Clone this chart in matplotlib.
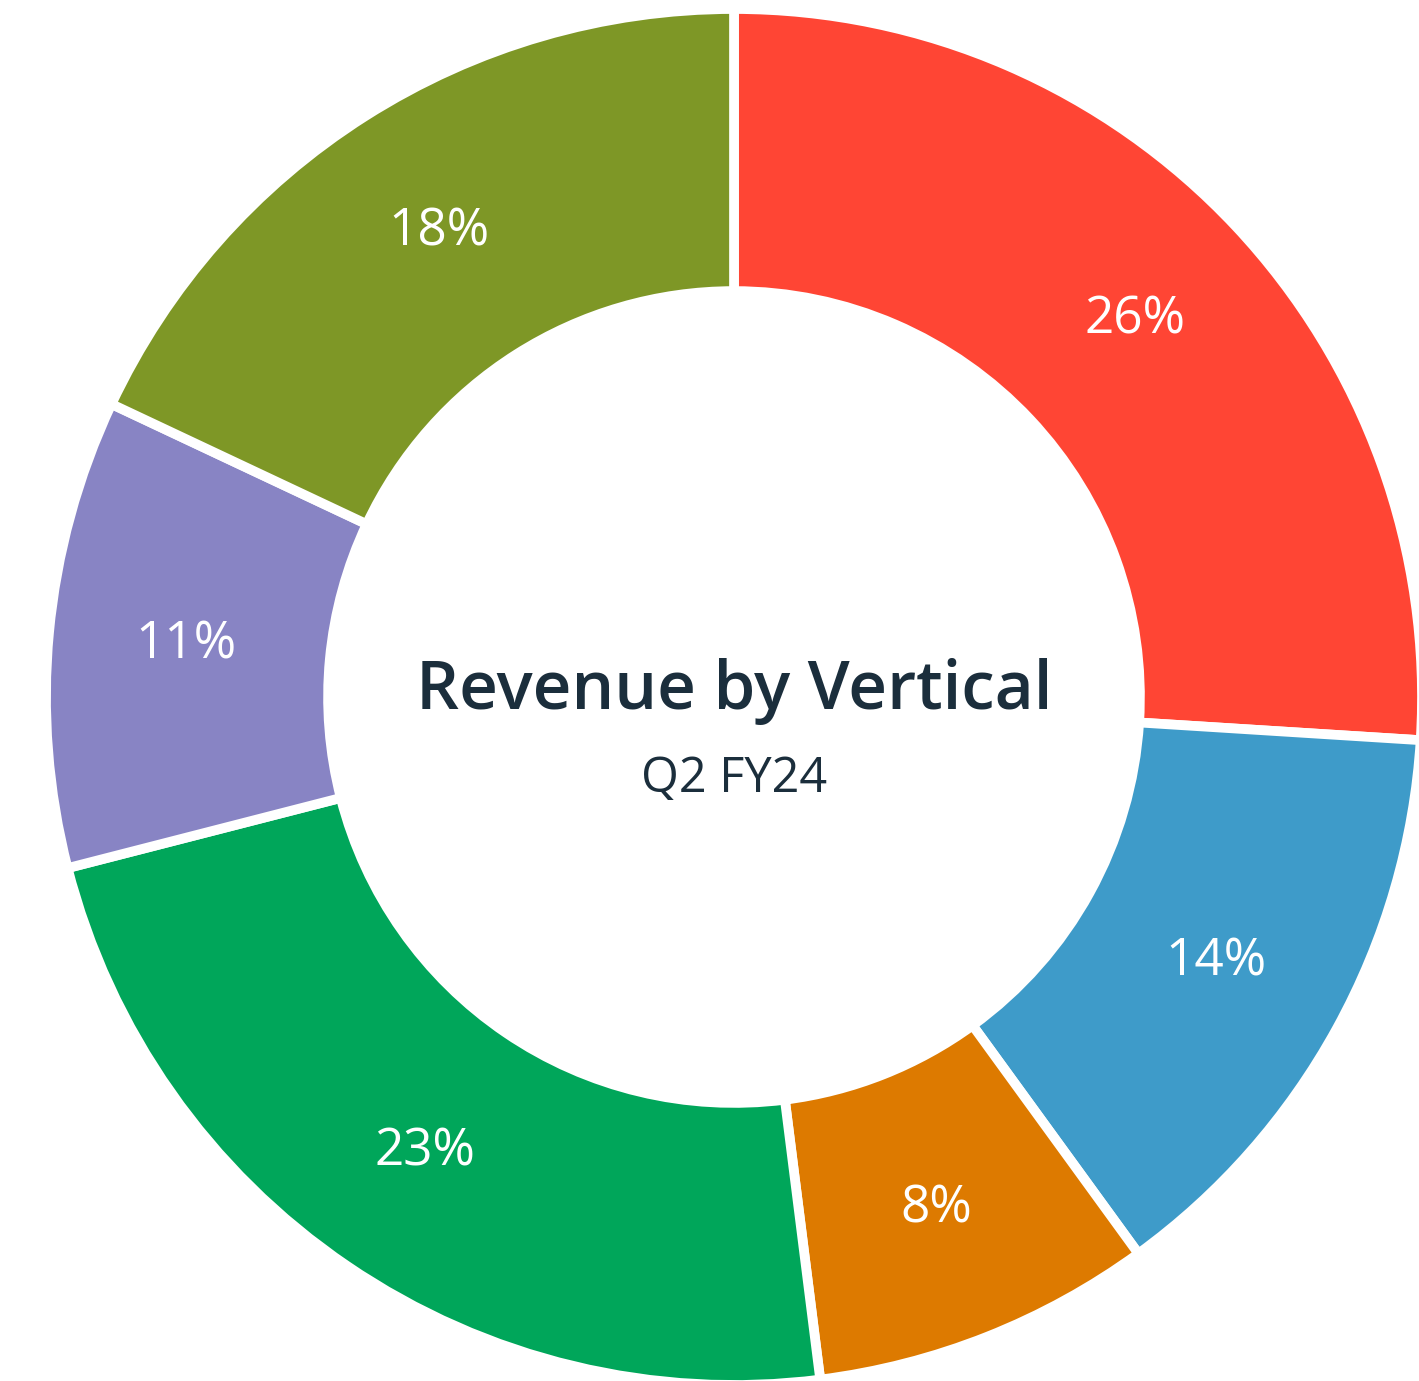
import matplotlib.pyplot as plt

# Revenue share by vertical, Q2 FY24 (clockwise from 12 o'clock)
verticals = ["Retail", "Finance", "Media", "Healthcare", "Education", "Manufacturing"]
shares = [26, 14, 8, 23, 11, 18]
colors = ["#FF4534", "#3E9BC9", "#DD7A00", "#00A65A", "#8884C4", "#7E9726"]

plt.rcParams['font.family'] = ['Open Sans', 'DejaVu Sans']

fig = plt.figure(figsize=(14.19, 13.81), dpi=100)
ax = fig.add_axes([0, 0, 1, 1])

wedges, texts, autotexts = ax.pie(
    shares, colors=colors, startangle=90, counterclock=False,
    radius=1.0, autopct='%d%%', pctdistance=0.8,
    wedgeprops=dict(width=0.41, edgecolor='white', linewidth=7),
    textprops=dict(color='white', fontsize=37),
)

ax.text(0, 0.008, "Revenue by Vertical", ha='center', va='center',
        fontsize=48.5, fontweight='semibold', color='#1B2E3C')
ax.text(0, -0.12, "Q2 FY24", ha='center', va='center',
        fontsize=35, color='#1B2E3C')

# center ~ (734, 697) px, outer radius ~ 688 px
W, H = 1419, 1381
cx, cy, r = 734, 697, 688
ax.set_xlim(-cx / r, (W - cx) / r)
ax.set_ylim(-(H - cy) / r, cy / r)
ax.set_aspect('equal')
ax.axis('off')

fig.savefig("out.png", dpi=100, facecolor='white')
